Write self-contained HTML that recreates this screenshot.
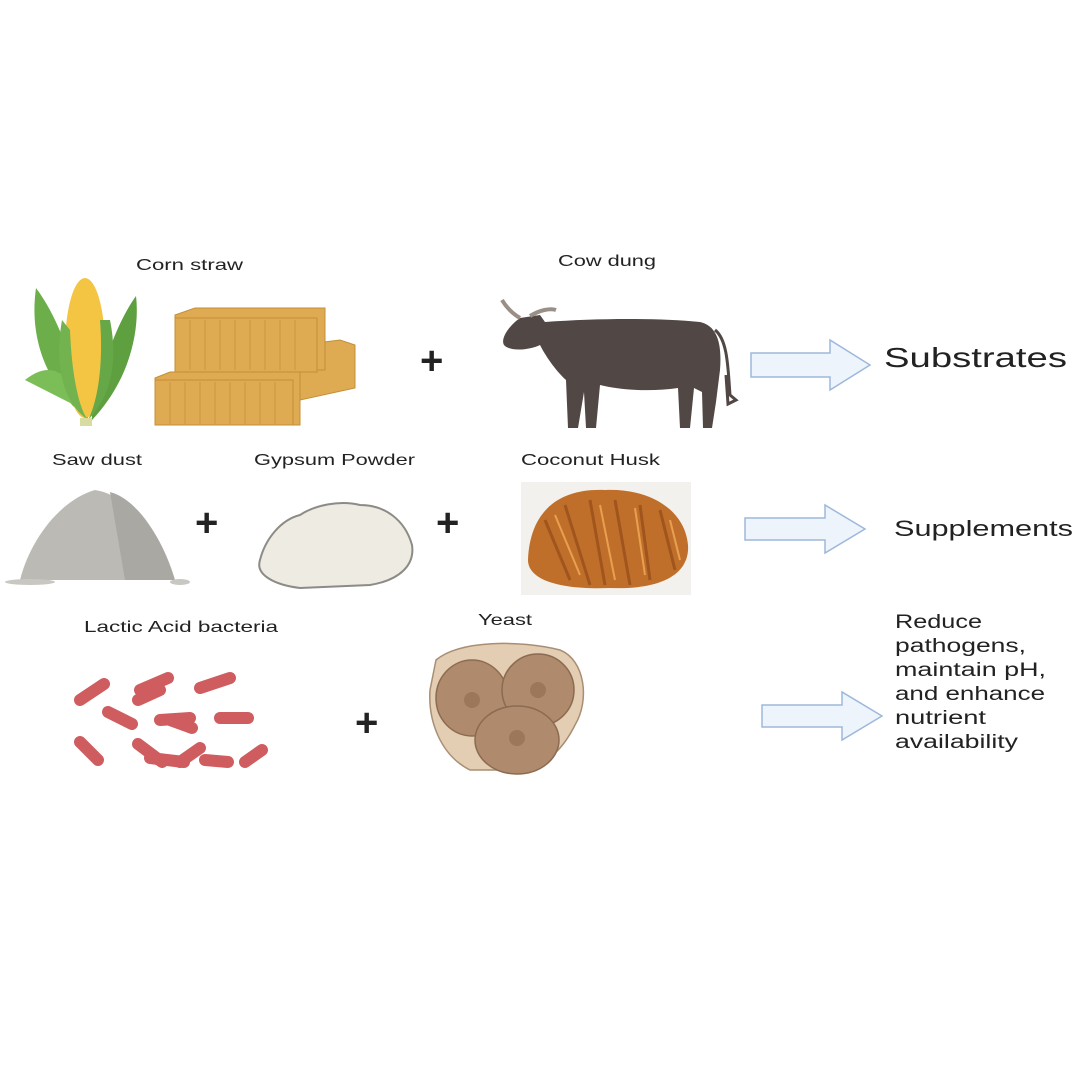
<!DOCTYPE html>
<html><head><meta charset="utf-8"><style>
body{margin:0;background:#fff}
svg{display:block}
text{font-family:"Liberation Sans",sans-serif;fill:#222}
</style></head><body>
<svg width="1080" height="1080" viewBox="0 0 1080 1080" xmlns="http://www.w3.org/2000/svg">
<rect width="1080" height="1080" fill="#fff"/>
<!-- labels -->
<g font-size="16" lengthAdjust="spacingAndGlyphs">
<text x="136" y="270" textLength="107" lengthAdjust="spacingAndGlyphs">Corn straw</text>
<text x="558" y="266" textLength="98" lengthAdjust="spacingAndGlyphs">Cow dung</text>
<text x="52" y="465" textLength="90" lengthAdjust="spacingAndGlyphs">Saw dust</text>
<text x="254" y="465" textLength="161" lengthAdjust="spacingAndGlyphs">Gypsum Powder</text>
<text x="521" y="465" textLength="139" lengthAdjust="spacingAndGlyphs">Coconut Husk</text>
<text x="84" y="632" textLength="194" lengthAdjust="spacingAndGlyphs">Lactic Acid bacteria</text>
<text x="478" y="625" textLength="54" lengthAdjust="spacingAndGlyphs">Yeast</text>
</g>
<text x="884" y="367" font-size="28" textLength="183" lengthAdjust="spacingAndGlyphs">Substrates</text>
<text x="894" y="536" font-size="22" textLength="179" lengthAdjust="spacingAndGlyphs">Supplements</text>
<g font-size="19">
<text x="895" y="628" textLength="87" lengthAdjust="spacingAndGlyphs">Reduce</text>
<text x="895" y="652" textLength="131" lengthAdjust="spacingAndGlyphs">pathogens,</text>
<text x="895" y="676" textLength="151" lengthAdjust="spacingAndGlyphs">maintain pH,</text>
<text x="895" y="700" textLength="150" lengthAdjust="spacingAndGlyphs">and enhance</text>
<text x="895" y="724" textLength="91" lengthAdjust="spacingAndGlyphs">nutrient</text>
<text x="895" y="748" textLength="123" lengthAdjust="spacingAndGlyphs">availability</text>
</g>
<!-- plus signs -->
<g font-size="40" font-weight="bold"><text x="420" y="374">+</text><text x="195" y="536">+</text><text x="436" y="536">+</text><text x="355" y="736">+</text></g>
<!-- arrows -->
<g fill="#eef4fb" stroke="#9db8dc" stroke-width="1.5">
<path d="M751,353 H830 V340 L870,365 L830,390 V377 H751 Z"/>
<path d="M745,518 H825 V505 L865,529 L825,553 V540 H745 Z"/>
<path d="M762,705 H842 V692 L882,716 L842,740 V727 H762 Z"/>
</g>
<!-- corn -->
<path d="M88,420 C40,380 30,330 36,288 C60,320 70,360 88,400 Z" fill="#6cae4a"/>
<path d="M92,420 C130,380 140,330 136,296 C112,330 104,370 92,400 Z" fill="#5e9f3f"/>
<path d="M25,380 C50,360 70,370 84,410 Z" fill="#7bbd57"/>
<ellipse cx="85" cy="348" rx="20" ry="70" fill="#f4c443"/>
<path d="M70,330 C72,380 80,410 88,420 C60,400 55,360 62,320Z" fill="#73b34f"/>
<path d="M100,320 C104,370 96,405 88,420 C112,395 118,360 110,320Z" fill="#66a847"/>
<rect x="80" y="418" width="12" height="8" fill="#d9dca0"/>
<!-- hay -->
<g fill="#deaa52" stroke="#c58f36" stroke-width="1">
<polygon points="300,345 340,340 355,345 355,388 300,400"/>
<polygon points="175,315 195,308 325,308 325,370 175,370"/>
<rect x="175" y="318" width="142" height="54"/>
<polygon points="155,378 170,372 300,372 300,425 155,425"/>
<rect x="155" y="380" width="138" height="45"/>
</g>
<g stroke="#c08a33" stroke-width="1" opacity="0.6">
<path d="M190,320V370M205,320V370M220,320V370M235,320V370M250,320V370M265,320V370M280,320V370M295,320V370M170,382V424M185,382V424M200,382V424M215,382V424M230,382V424M245,382V424M260,382V424M275,382V424"/>
</g>
<!-- cow -->
<g fill="#514745">
<path d="M545,322 C600,318 660,318 700,322 C718,326 722,345 720,370 L716,402 L712,428 L703,428 L702,392 L694,388 L690,428 L680,428 L678,388 C650,392 620,390 600,385 L596,428 L586,428 L584,392 L578,428 L568,428 L566,380 C555,370 545,355 540,345 C530,350 510,352 504,345 C500,338 510,325 520,318 L540,315 Z"/>
<path d="M715,330 C728,340 728,370 730,395 L736,400 L728,404 L726,375" stroke="#514745" stroke-width="3" fill="none"/>
</g>
<path d="M520,318 C510,312 505,305 502,300 M530,316 C540,310 550,308 556,310" stroke="#9a8f86" stroke-width="4" fill="none"/>
<!-- saw dust -->
<path d="M20,580 C30,540 60,500 95,490 C130,495 160,540 175,580 Z" fill="#bbbab4"/>
<path d="M110,492 C140,500 165,545 175,580 L125,580 Z" fill="#a9a8a2"/>
<ellipse cx="30" cy="582" rx="25" ry="3" fill="#c8c7c1"/><ellipse cx="180" cy="582" rx="10" ry="3" fill="#c8c7c1"/>
<!-- gypsum -->
<path d="M260,560 C265,540 280,520 300,515 C315,505 340,500 360,505 C385,505 405,520 412,545 C415,565 400,580 370,585 L300,588 C275,585 255,575 260,560 Z" fill="#eeebe2" stroke="#8d8b86" stroke-width="2"/>
<!-- coconut husk -->
<rect x="521" y="482" width="170" height="113" fill="#f3f1ed"/>
<path d="M528,560 C530,510 560,488 605,490 C650,488 685,510 688,545 C690,575 660,590 610,588 C560,590 528,580 528,560Z" fill="#c06f2a"/>
<g stroke="#8a4516" stroke-width="3" opacity="0.6"><path d="M545,520 L570,580 M565,505 L590,585 M590,500 L605,585 M615,500 L630,585 M640,505 L650,580 M660,510 L675,570"/></g>
<g stroke="#e8a050" stroke-width="2"><path d="M555,515 L580,575 M600,505 L615,580 M635,508 L645,575 M670,520 L680,560"/></g>
<!-- bacteria -->
<g stroke="#cf5c5f" stroke-width="12" stroke-linecap="round">
<path d="M80,700 L104,684"/><path d="M140,690 L168,678"/><path d="M138,700 L160,690"/><path d="M200,688 L230,678"/>
<path d="M108,712 L132,724"/><path d="M160,720 L190,718"/><path d="M170,720 L192,728"/><path d="M220,718 L248,718"/>
<path d="M80,742 L98,760"/><path d="M138,744 L162,762"/><path d="M150,758 L184,762"/><path d="M180,762 L200,748"/><path d="M205,760 L228,762"/><path d="M245,762 L262,750"/>
</g>
<!-- yeast -->
<path d="M436,660 C460,640 520,640 560,650 C585,660 590,700 575,725 C565,745 550,765 520,770 L470,770 C440,755 428,720 430,690 Z" fill="#e3cdb3" stroke="#a88f74" stroke-width="1.5"/>
<ellipse cx="472" cy="698" rx="36" ry="38" fill="#b08a6c" stroke="#8b6b52" stroke-width="1.5"/>
<ellipse cx="538" cy="690" rx="36" ry="36" fill="#b08a6c" stroke="#8b6b52" stroke-width="1.5"/>
<ellipse cx="517" cy="740" rx="42" ry="34" fill="#b08a6c" stroke="#8b6b52" stroke-width="1.5"/>
<g fill="#9c775a"><circle cx="472" cy="700" r="8"/><circle cx="538" cy="690" r="8"/><circle cx="517" cy="738" r="8"/></g>
</svg>
</body></html>
